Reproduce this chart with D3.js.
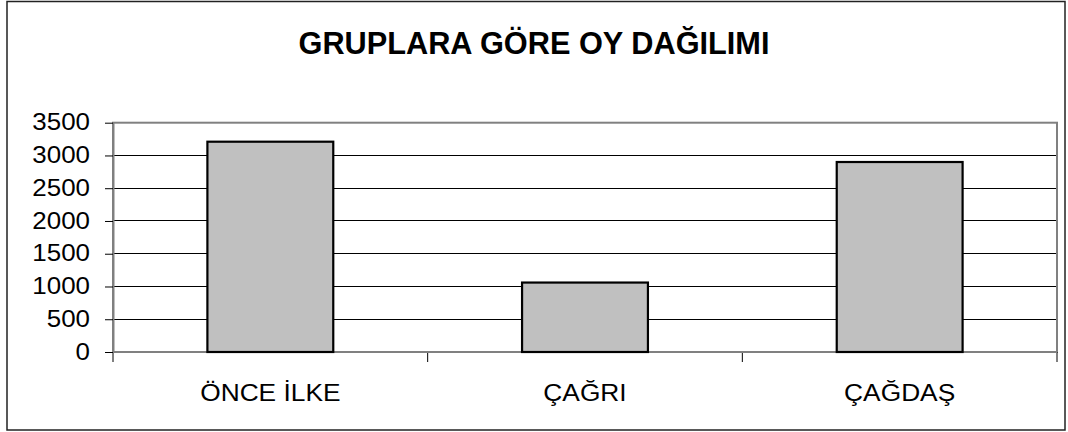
<!DOCTYPE html>
<html><head><meta charset="utf-8">
<script src="https://cdn.jsdelivr.net/npm/d3@7"></script>
<style>body{margin:0;background:#fff}svg{display:block}text{font-family:"Liberation Sans",Arial,sans-serif}</style>
</head><body>
<svg id="c" width="1068" height="432"></svg>
<script>
const categories = ["ÖNCE İLKE", "ÇAĞRI", "ÇAĞDAŞ"];
const votes = [3210, 1060, 2900];
const yTicks = [0, 500, 1000, 1500, 2000, 2500, 3000, 3500];
const title = "GRUPLARA GÖRE OY DAĞILIMI";

const svg = d3.select("#c");
const m = {left: 113, right: 1057, top: 122.7, bottom: 352};

svg.append("rect").attr("x", 7).attr("y", 1.5).attr("width", 1058).attr("height", 428.5)
  .attr("fill", "#fff").attr("stroke", "#222").attr("stroke-width", 1.5);

svg.append("text").attr("text-anchor", "middle").attr("font-weight", "bold").style("font-size", "32px")
  .attr("transform", `translate(534,54) scale(0.96,1)`).attr("fill", "#000").text(title);

const x = d3.scaleBand().domain(categories).range([m.left, m.right]).paddingInner(0.6).paddingOuter(0.3);
const xb = d3.scaleBand().domain(categories).range([m.left, m.right]);
const y = d3.scaleLinear().domain([0, 3500]).range([m.bottom, m.top]);

svg.append("g").selectAll("line").data(yTicks.filter(d => d > 0 && d < 3500)).join("line")
  .attr("x1", m.left).attr("x2", m.right).attr("y1", d => y(d)).attr("y2", d => y(d))
  .attr("stroke", "#000").attr("stroke-width", 1).attr("shape-rendering", "crispEdges");

svg.append("rect").attr("x", m.left).attr("y", m.top).attr("width", m.right - m.left).attr("height", m.bottom - m.top)
  .attr("fill", "none").attr("stroke", "#808080").attr("stroke-width", 2);

const yAxis = svg.append("g").attr("transform", `translate(${m.left},0)`)
  .call(d3.axisLeft(y).tickValues(yTicks).tickFormat(d3.format("d")).tickSize(8).tickPadding(15).tickSizeOuter(0));
yAxis.attr("font-size", null).attr("font-family", null);
yAxis.select(".domain").attr("stroke", "#808080").attr("stroke-width", 2);
yAxis.selectAll(".tick line").attr("stroke", "#000");
yAxis.selectAll(".tick text").style("font-size", "24px").attr("fill", "#000")
  .attr("dy", "0.3em")
  .attr("transform", `translate(-23,0) scale(1.08,1) translate(23,0)`);

const edges = categories.map(c => xb(c)).concat([m.right]);
svg.append("g").selectAll("line").data(edges).join("line")
  .attr("x1", d => d).attr("x2", d => d).attr("y1", m.bottom).attr("y2", m.bottom + 10)
  .attr("stroke", "#000").attr("stroke-width", 1);
svg.append("line").attr("x1", m.left).attr("x2", m.right).attr("y1", m.bottom).attr("y2", m.bottom)
  .attr("stroke", "#808080").attr("stroke-width", 2);

svg.append("g").selectAll("rect").data(votes).join("rect")
  .attr("x", (d, i) => x(categories[i])).attr("width", x.bandwidth())
  .attr("y", d => y(d)).attr("height", d => y(0) - y(d))
  .attr("fill", "#c0c0c0").attr("stroke", "#000").attr("stroke-width", 2.2);

svg.append("g").selectAll("text").data(categories).join("text")
  .attr("text-anchor", "middle").style("font-size", "23.5px").attr("fill", "#000")
  .attr("transform", d => `translate(${xb(d) + xb.bandwidth()/2},400.5) scale(1.12,1)`)
  .text(d => d);
</script>
</body></html>
